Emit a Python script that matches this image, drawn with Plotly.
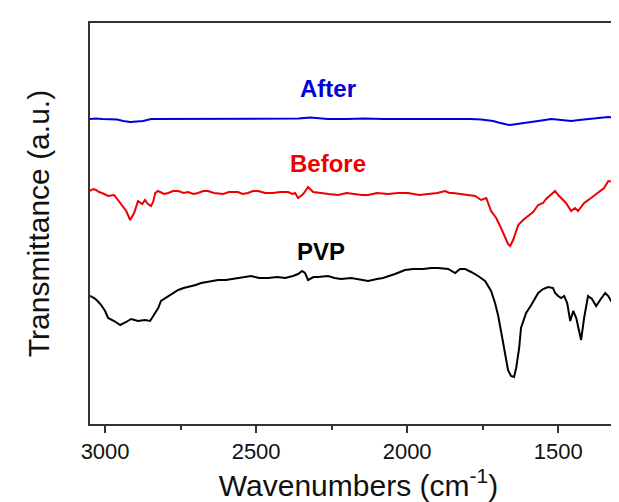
import plotly.graph_objects as go

# Wavenumbers (cm^-1) and relative transmittance (arbitrary units)
after_wn = [3050, 3030, 3010, 2990, 2960, 2940, 2917, 2895, 2874, 2848, 2800, 2750, 2700, 2659,
            2600, 2540, 2480, 2420, 2360, 2321, 2262, 2200, 2140, 2080, 2020, 1997, 1940,
            1880, 1820, 1790, 1755, 1735, 1715, 1698, 1682, 1670, 1659, 1640, 1616, 1590,
            1566, 1545, 1523, 1505, 1490, 1470, 1457, 1430, 1401, 1370, 1334, 1301, 1285, 1272]
after_t = [305, 305.5, 305, 305, 304.5, 303, 302, 302.5, 303, 305, 305, 305.5, 305, 305,
           305, 305.5, 305, 305, 305.5, 306.5, 305, 305, 305.5, 305, 305, 305, 305.5,
           305, 305, 305, 304.5, 304, 303, 301.5, 300, 299.5, 299, 300, 301, 302,
           303, 304, 305, 304.5, 304, 303.5, 303, 304, 305, 306, 307, 306.5, 305.5, 305]

before_wn = [3050, 3040, 3030, 3020, 3010, 2990, 2970, 2950, 2940, 2930, 2917, 2904, 2891, 2877,
             2868, 2858, 2848, 2841, 2834, 2825, 2818, 2805, 2791, 2775, 2758, 2740, 2725,
             2708, 2692, 2675, 2659, 2640, 2609, 2590, 2560, 2545, 2527, 2510, 2493, 2470,
             2444, 2420, 2394, 2380, 2371, 2361, 2344, 2328, 2311, 2295, 2285, 2260, 2228,
             2200, 2179, 2150, 2129, 2100, 2063, 2030, 1997, 1960, 1930, 1900, 1874, 1860,
             1848, 1820, 1798, 1775, 1755, 1738, 1722, 1705, 1689, 1676, 1666, 1659, 1649,
             1640, 1632, 1616, 1599, 1583, 1566, 1550, 1540, 1533, 1520, 1510, 1500, 1490,
             1474, 1457, 1444, 1434, 1414, 1391, 1368, 1348, 1334, 1318, 1301, 1288, 1278, 1272]
before_t = [233, 235, 234, 232, 231, 228, 229, 221, 217, 213, 204, 211, 223, 220,
            224, 220, 218, 222, 231, 233, 232, 230, 231, 233, 233, 231, 232,
            230, 231, 233, 233, 231, 230, 232, 232, 230, 231, 233, 233, 231,
            231, 232, 232, 230, 231, 226, 230, 237, 232, 231, 231, 230, 229,
            231, 230, 229, 229, 231, 230, 231, 231, 229, 230, 231, 233, 231,
            231, 230, 229, 228, 224, 226, 213, 206, 196, 186, 180, 178, 184,
            192, 199, 204, 208, 212, 219, 221, 225, 227, 230, 233, 229, 226,
            221, 213, 216, 213, 221, 226, 231, 236, 243, 242, 241, 234, 233, 236]

pvp_wn = [3050, 3036, 3025, 3013, 3000, 2990, 2970, 2950, 2930, 2914, 2891, 2868, 2851, 2834,
          2824, 2815, 2800, 2791, 2775, 2758, 2740, 2725, 2700, 2682, 2660, 2626, 2600, 2576,
          2545, 2517, 2490, 2460, 2430, 2404, 2378, 2361, 2348, 2338, 2328, 2310, 2295, 2262,
          2240, 2219, 2185, 2150, 2129, 2100, 2080, 2040, 2007, 1980, 1947, 1920, 1897, 1864,
          1841, 1825, 1808, 1788, 1765, 1742, 1722, 1709, 1699, 1685, 1676, 1666, 1656, 1646,
          1639, 1629, 1623, 1606, 1589, 1566, 1550, 1533, 1517, 1510, 1500, 1490, 1480, 1470,
          1460, 1450, 1440, 1430, 1424, 1414, 1401, 1388, 1374, 1361, 1344, 1334, 1325, 1315,
          1308, 1298, 1288, 1278, 1272]
pvp_t = [128, 126, 123, 119, 113, 106, 103, 99, 102, 105, 103, 104, 103, 111,
         116, 123, 126, 128, 131, 134, 136, 137, 139, 141, 142, 144, 144, 145,
         147, 148, 146, 146, 147, 146, 148, 150, 153, 151, 144, 147, 147, 148,
         146, 145, 146, 144, 143, 145, 146, 150, 154, 155, 155, 156, 156, 155,
         151, 155, 155, 152, 148, 143, 133, 121, 109, 86, 69, 54, 48, 47,
         56, 76, 96, 111, 119, 131, 135, 137, 136, 131, 128, 126, 128, 121,
         103, 113, 106, 91, 84, 106, 128, 125, 118, 124, 131, 128, 123, 122,
         116, 91, 76, 81, 83]

labels = ["After", "Before", "PVP"]
label_wn = [2262, 2262, 2285]
label_t = [336, 261, 173]
colors = ["#0000dd", "#ee0000", "#000000"]

x_range = [3050, 1272]
y_range = [0, 401]
tick_vals = [3000, 2500, 2000, 1500]

FONT = "Arial, 'Liberation Sans', sans-serif"

fig = go.Figure()
for wn, t, c in [(after_wn, after_t, colors[0]), (before_wn, before_t, colors[1]), (pvp_wn, pvp_t, colors[2])]:
    fig.add_trace(go.Scatter(x=wn, y=t, mode="lines", line=dict(color=c, width=2), showlegend=False))

for txt, xw, yt, c in zip(labels, label_wn, label_t, colors):
    fig.add_annotation(x=xw, y=yt, text=f"<b>{txt}</b>", showarrow=False,
                       font=dict(family=FONT, size=24, color=c))

fig.update_layout(
    width=619, height=502,
    margin=dict(l=82, r=0, t=15, b=86),
    paper_bgcolor="white", plot_bgcolor="white",
    font=dict(family=FONT, color="#111"),
    xaxis=dict(range=x_range, tickvals=tick_vals, ticks="outside", ticklen=7, tickwidth=1.5,
               tickcolor="#333", showline=True, linecolor="#333", linewidth=2, mirror=True,
               showgrid=False, zeroline=False, tickfont=dict(size=22, color="#111"),
               minor=dict(dtick=250, tick0=0, ticks="outside", ticklen=4, tickwidth=1.5, tickcolor="#333"),
               title=dict(text="Wavenumbers (cm<sup>-1</sup>)", font=dict(size=30, color="#111"), standoff=2)),
    yaxis=dict(range=y_range, showticklabels=False, ticks="", showline=True, linecolor="#333",
               linewidth=2, showgrid=False, zeroline=False,
               title=dict(text="Transmittance (a.u.)", font=dict(size=30, color="#111"), standoff=30)),
)

fig.write_html("out.html")
